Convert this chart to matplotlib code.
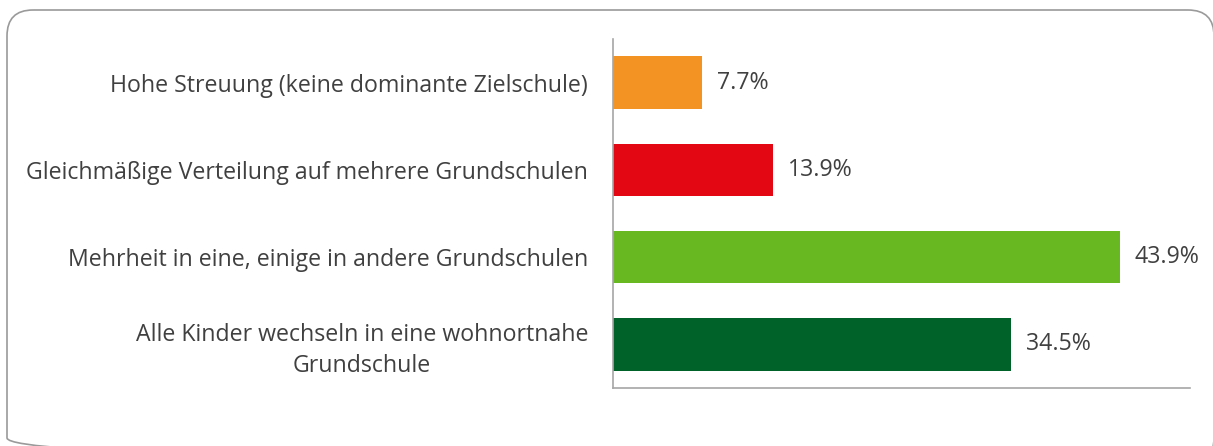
import matplotlib
matplotlib.use("Agg")
import matplotlib.pyplot as plt
from matplotlib.patches import FancyBboxPatch

plt.rcParams['font.family'] = ['Open Sans', 'DejaVu Sans']

# data (top to bottom as shown)
categories = [
    "Hohe Streuung (keine dominante Zielschule)",
    "Gleichmäßige Verteilung auf mehrere Grundschulen",
    "Mehrheit in eine, einige in andere Grundschulen",
    "Alle Kinder wechseln in eine wohnortnahe\nGrundschule",
]
values = [7.7, 13.9, 43.9, 34.5]
colors = ["#F39324", "#E30613", "#67B821", "#006228"]
value_labels = ["7.7%", "13.9%", "43.9%", "34.5%"]

text_color = "#404040"
W, H = 1213, 446

fig = plt.figure(figsize=(W / 100, H / 100), dpi=100)

# background axes in pixel units, for the rounded frame
bg = fig.add_axes([0, 0, 1, 1])
bg.set_xlim(0, W)
bg.set_ylim(H, 0)
bg.axis("off")
frame = FancyBboxPatch((7, 10), 1207, 454,
                       boxstyle="round,pad=0,rounding_size=26",
                       fill=False, edgecolor="#9a9a9a", linewidth=1.2)
bg.add_patch(frame)

ax = fig.add_axes([613 / W, 1 - 388 / H, 577 / W, 349 / H])

ypos = list(range(len(categories)))
ax.barh(ypos, values, height=0.6, color=colors)
ax.set_xlim(0, 50)
ax.set_ylim(len(categories) - 0.5, -0.5)

for y, v, lab in zip(ypos, values, value_labels):
    ax.text(v + 1.3, y, lab, va="center", ha="left",
            fontsize=16.7, color=text_color)

ax.set_yticks(ypos)
ax.set_yticklabels(categories, fontsize=16.7, color=text_color,
                   multialignment="center", linespacing=1.35)
ax.tick_params(axis="y", length=0, pad=18)
ax.set_xticks([])

for side in ["top", "right"]:
    ax.spines[side].set_visible(False)
for side in ["left", "bottom"]:
    ax.spines[side].set_color("#a6a6a6")
    ax.spines[side].set_linewidth(1.2)

fig.savefig("out.png", dpi=100)
